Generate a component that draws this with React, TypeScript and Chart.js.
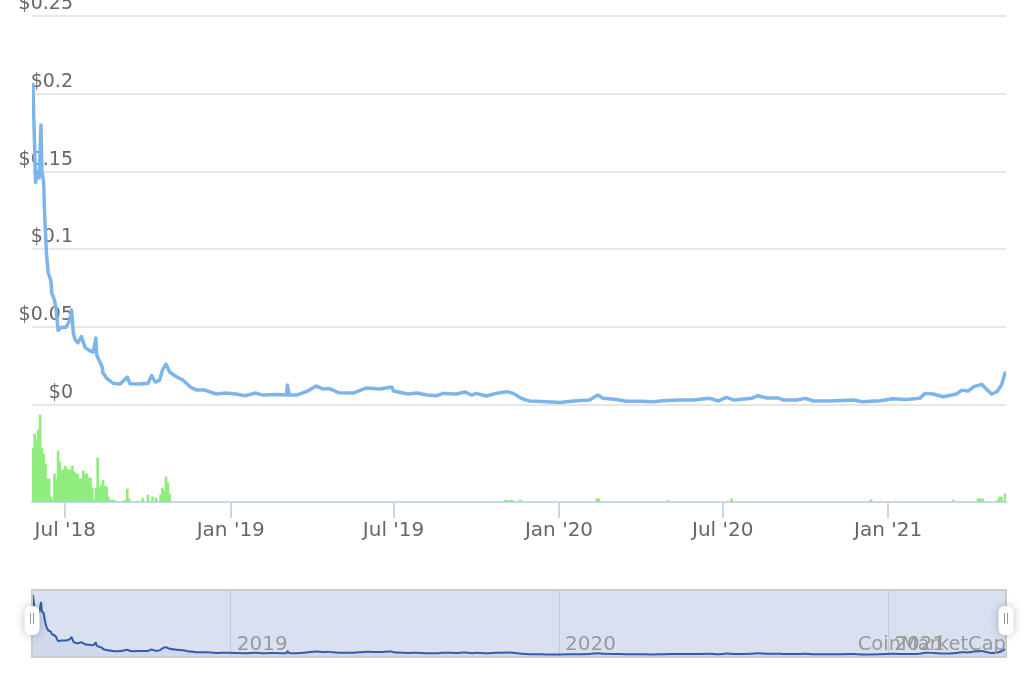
import React, { useEffect, useRef } from 'react';
import { Chart, registerables } from 'chart.js';

Chart.register(...registerables);

// ---------- data ----------
const priceDates = [
  '2018-05-26', '2018-05-29', '2018-05-31', '2018-06-02', '2018-06-04', '2018-06-05', '2018-06-07', '2018-06-08',
  '2018-06-10', '2018-06-12', '2018-06-15', '2018-06-16', '2018-06-19', '2018-06-21', '2018-06-23', '2018-06-27',
  '2018-07-02', '2018-07-06', '2018-07-08', '2018-07-10', '2018-07-12', '2018-07-15', '2018-07-19', '2018-07-23',
  '2018-07-28', '2018-08-01', '2018-08-04', '2018-08-05', '2018-08-09', '2018-08-11', '2018-08-12', '2018-08-16',
  '2018-08-23', '2018-08-31', '2018-09-08', '2018-09-11', '2018-09-22', '2018-10-01', '2018-10-05', '2018-10-09',
  '2018-10-14', '2018-10-17', '2018-10-21', '2018-10-25', '2018-11-02', '2018-11-09', '2018-11-17', '2018-11-24',
  '2018-12-03', '2018-12-16', '2018-12-27', '2019-01-07', '2019-01-17', '2019-01-28', '2019-02-06', '2019-02-21',
  '2019-03-04', '2019-03-05', '2019-03-07', '2019-03-15', '2019-03-26', '2019-04-06', '2019-04-14', '2019-04-20',
  '2019-05-01', '2019-05-17', '2019-06-01', '2019-06-16', '2019-06-29', '2019-07-01', '2019-07-17', '2019-07-27',
  '2019-08-07', '2019-08-18', '2019-08-25', '2019-09-09', '2019-09-18', '2019-09-26', '2019-10-01', '2019-10-12',
  '2019-10-23', '2019-11-04', '2019-11-11', '2019-11-20', '2019-11-29', '2019-12-18', '2020-01-02', '2020-01-17',
  '2020-02-04', '2020-02-13', '2020-02-19', '2020-03-05', '2020-03-16', '2020-03-31', '2020-04-15', '2020-04-26',
  '2020-05-14', '2020-05-29', '2020-06-17', '2020-06-26', '2020-07-05', '2020-07-14', '2020-08-02', '2020-08-09',
  '2020-08-19', '2020-09-01', '2020-09-07', '2020-09-21', '2020-10-01', '2020-10-10', '2020-10-28', '2020-11-23',
  '2020-12-03', '2020-12-23', '2021-01-06', '2021-01-21', '2021-02-05', '2021-02-11', '2021-02-20', '2021-03-03',
  '2021-03-18', '2021-03-24', '2021-03-31', '2021-04-06', '2021-04-15', '2021-04-19', '2021-04-26', '2021-05-02',
  '2021-05-07', '2021-05-11',
];
const priceValues = [
  0.206, 0.143, 0.150, 0.146, 0.180, 0.150, 0.143, 0.123,
  0.098, 0.085, 0.080, 0.072, 0.0675, 0.061, 0.048, 0.050,
  0.050, 0.0546, 0.061, 0.046, 0.042, 0.040, 0.044, 0.037,
  0.035, 0.034, 0.043, 0.032, 0.027, 0.0245, 0.0206, 0.0173,
  0.014, 0.0135, 0.018, 0.0137, 0.0135, 0.014, 0.019, 0.0148,
  0.016, 0.0225, 0.0263, 0.0212, 0.018, 0.016, 0.0116, 0.0096,
  0.0096, 0.0071, 0.0077, 0.0071, 0.006, 0.0077, 0.0064, 0.0067,
  0.0064, 0.0129, 0.0064, 0.0064, 0.0086, 0.0122, 0.0103, 0.0107,
  0.0079, 0.0077, 0.011, 0.0103, 0.0116, 0.009, 0.0071, 0.0077,
  0.0064, 0.006, 0.0075, 0.0071, 0.0084, 0.0064, 0.0075, 0.0058,
  0.0075, 0.0086, 0.0075, 0.0043, 0.0026, 0.0021, 0.0017, 0.0026,
  0.0032, 0.0064, 0.0043, 0.0036, 0.0024, 0.0024, 0.0021, 0.0028,
  0.0032, 0.0032, 0.0043, 0.0026, 0.0049, 0.0032, 0.0043, 0.006,
  0.0045, 0.0045, 0.0032, 0.0032, 0.0043, 0.0026, 0.0026, 0.0032,
  0.0021, 0.0028, 0.004, 0.0036, 0.0043, 0.0075, 0.0071, 0.0053,
  0.0071, 0.0096, 0.009, 0.0118, 0.0133, 0.011, 0.0071, 0.0086,
  0.0129, 0.0206,
];

const volumeDates = [
  '2018-05-26', '2018-05-28', '2018-05-30', '2018-06-01', '2018-06-03', '2018-06-05', '2018-06-07', '2018-06-09',
  '2018-06-11', '2018-06-13', '2018-06-15', '2018-06-17', '2018-06-19', '2018-06-21', '2018-06-23', '2018-06-25',
  '2018-06-27', '2018-06-29', '2018-07-01', '2018-07-03', '2018-07-05', '2018-07-07', '2018-07-09', '2018-07-11',
  '2018-07-13', '2018-07-15', '2018-07-17', '2018-07-19', '2018-07-21', '2018-07-23', '2018-07-25', '2018-07-27',
  '2018-07-29', '2018-07-31', '2018-08-02', '2018-08-04', '2018-08-06', '2018-08-08', '2018-08-10', '2018-08-12',
  '2018-08-14', '2018-08-16', '2018-08-18', '2018-08-20', '2018-08-22', '2018-08-24', '2018-08-26', '2018-09-04',
  '2018-09-06', '2018-09-08', '2018-09-10', '2018-09-20', '2018-09-25', '2018-10-01', '2018-10-06', '2018-10-10',
  '2018-10-15', '2018-10-17', '2018-10-19', '2018-10-21', '2018-10-23', '2018-10-25', '2019-11-02', '2019-11-04',
  '2019-11-08', '2019-11-10', '2019-11-19', '2020-02-12', '2020-02-14', '2020-05-01', '2020-07-11', '2020-12-13',
  '2021-03-14', '2021-04-11', '2021-04-13', '2021-04-16', '2021-05-03', '2021-05-05', '2021-05-07', '2021-05-11',
];
const volumeValues = [
  54, 68, 62, 72, 87, 54, 48, 38,
  23, 23, 5, 2, 28, 23, 51, 40,
  32, 32, 36, 33, 32, 32, 36, 30,
  28, 28, 23, 23, 31, 28, 28, 24,
  24, 14, 2, 14, 44, 14, 17, 22,
  16, 15, 5, 1, 2, 2, 1, 1,
  2, 13, 3, 1, 4, 7, 5, 4,
  7, 14, 11, 25, 19, 8, 1.7, 1.7,
  1.7, 1.7, 2, 3, 3.3, 1.5, 3.3, 2.3,
  2, 3.3, 3.3, 3, 2, 5, 5, 8.3,
];

const mainTickDates = ['2018-07-01', '2019-01-01', '2019-07-01', '2020-01-01', '2020-07-01', '2021-01-01'];
const navTickDates = ['2019-01-01', '2020-01-01', '2021-01-01'];
const priceTicks = [0, 0.05, 0.1, 0.15, 0.2, 0.25];
const rangeStart = '2018-05-25';
const rangeEnd = '2021-05-12';
const monthNames = ['Jan', 'Feb', 'Mar', 'Apr', 'May', 'Jun', 'Jul', 'Aug', 'Sep', 'Oct', 'Nov', 'Dec'];
const creditText = 'CoinMarketCap';

const FONT = '"DejaVu Sans", "Open Sans", sans-serif';
const ts = (d: string) => Date.parse(d + 'T00:00:00Z');

const fmtMonth = (v: number) => {
  const d = new Date(v);
  return `${monthNames[d.getUTCMonth()]} '${String(d.getUTCFullYear()).slice(2)}`;
};

const navPlugin = {
  id: 'navFrame',
  beforeDraw(chart: any) {
    const { ctx, chartArea: a } = chart;
    ctx.save();
    ctx.fillStyle = '#d9e0ef';
    ctx.fillRect(a.left, a.top, a.right - a.left, a.bottom - a.top);
    ctx.restore();
  },
  afterDraw(chart: any) {
    const { ctx, chartArea: a } = chart;
    ctx.save();
    ctx.strokeStyle = '#cccccc';
    ctx.lineWidth = 2;
    ctx.strokeRect(a.left, a.top, a.right - a.left, a.bottom - a.top);
    const cy = a.top + 30;
    for (const hx of [a.left, a.right]) {
      ctx.save();
      ctx.shadowColor = 'rgba(0,0,0,0.25)';
      ctx.shadowBlur = 10;
      ctx.fillStyle = '#ffffff';
      ctx.beginPath();
      ctx.roundRect(hx - 7.5, cy - 14, 15, 29, 6);
      ctx.fill();
      ctx.restore();
      ctx.strokeStyle = '#999999';
      ctx.lineWidth = 1;
      ctx.beginPath();
      ctx.moveTo(hx - 1.5, cy - 7);
      ctx.lineTo(hx - 1.5, cy + 4);
      ctx.moveTo(hx + 1.5, cy - 7);
      ctx.lineTo(hx + 1.5, cy + 4);
      ctx.stroke();
    }
    ctx.restore();
  },
};

export default function App() {
  const mainRef = useRef<HTMLCanvasElement>(null);
  const navRef = useRef<HTMLCanvasElement>(null);

  useEffect(() => {
    const pricePoints = priceDates.map((d, i) => ({ x: ts(d), y: priceValues[i] }));
    const volumePoints = volumeDates.map((d, i) => ({ x: ts(d), y: volumeValues[i] }));

    const main = new Chart(mainRef.current as HTMLCanvasElement, {
      type: 'line',
      data: {
        datasets: [
          {
            type: 'line',
            label: 'Price',
            data: pricePoints,
            borderColor: '#7cb5ec',
            borderWidth: 3.5,
            pointRadius: 0,
            tension: 0,
            borderJoinStyle: 'round',
            borderCapStyle: 'round',
            yAxisID: 'y',
            order: 1,
          } as any,
          {
            type: 'bar',
            label: 'Volume',
            data: volumePoints,
            backgroundColor: '#90ed7d',
            barThickness: 2,
            yAxisID: 'yVol',
            order: 2,
          } as any,
        ],
      },
      options: {
        animation: false,
        responsive: false,
        maintainAspectRatio: false,
        layout: { padding: { left: 32, right: 18, top: 16, bottom: 0 } },
        plugins: { legend: { display: false }, tooltip: { enabled: false } },
        scales: {
          x: {
            type: 'linear',
            min: ts(rangeStart),
            max: ts(rangeEnd),
            offset: false,
            afterBuildTicks: (s: any) => {
              s.ticks = mainTickDates.map((d) => ({ value: ts(d) }));
            },
            afterFit: (s: any) => {
              s.height = 58;
            },
            grid: { offset: false, drawOnChartArea: false, drawTicks: true, tickLength: 16, color: '#ccd6eb', lineWidth: 2 },
            border: { display: true, color: '#ccd6eb', width: 2 },
            ticks: {
              color: '#666666',
              font: { family: FONT, size: 20 },
              padding: 1,
              maxRotation: 0,
              autoSkip: false,
              callback: (v: any) => fmtMonth(Number(v)),
            },
          },
          y: {
            type: 'linear',
            position: 'left',
            min: -0.0623,
            max: 0.25,
            afterBuildTicks: (s: any) => {
              s.ticks = priceTicks.map((v) => ({ value: v }));
            },
            afterFit: (s: any) => {
              s.width = 0;
            },
            grid: { color: '#e6e6e6', lineWidth: 2, drawTicks: false },
            border: { display: false },
            ticks: {
              color: '#666666',
              font: { family: FONT, size: 19 },
              mirror: true,
              crossAlign: 'far',
              padding: -13.4,
              labelOffset: -12,
              callback: (v: any) => '$' + v,
            },
          },
          yVol: {
            type: 'linear',
            position: 'left',
            display: false,
            min: 0,
            max: 486,
          },
        },
      } as any,
    });

    const nav = new Chart(navRef.current as HTMLCanvasElement, {
      type: 'line',
      data: {
        datasets: [
          {
            label: 'Navigator',
            data: pricePoints,
            borderColor: '#335cad',
            borderWidth: 2,
            pointRadius: 0,
            tension: 0.3,
            fill: 'start',
            backgroundColor: 'rgba(51,92,173,0.05)',
          } as any,
        ],
      },
      options: {
        animation: false,
        responsive: false,
        maintainAspectRatio: false,
        layout: { padding: { left: 32, right: 18, top: 30, bottom: 26 } },
        plugins: { legend: { display: false }, tooltip: { enabled: false } },
        scales: {
          x: {
            type: 'linear',
            min: ts(rangeStart),
            max: ts(rangeEnd),
            afterBuildTicks: (s: any) => {
              s.ticks = navTickDates.map((d) => ({ value: ts(d) }));
            },
            afterFit: (s: any) => {
              s.height = 0;
            },
            grid: { color: 'rgba(110,110,130,0.2)', lineWidth: 1, drawTicks: false },
            border: { display: false },
            ticks: {
              mirror: true,
              align: 'start',
              padding: 0,
              labelOffset: 6,
              color: '#999999',
              font: { family: FONT, size: 20 },
              maxRotation: 0,
              autoSkip: false,
              callback: (v: any) => String(new Date(Number(v)).getUTCFullYear()),
            },
          },
          y: { display: false, min: -0.0069, max: 0.2232 },
        },
      } as any,
      plugins: [navPlugin],
    });

    return () => {
      main.destroy();
      nav.destroy();
    };
  }, []);

  return (
    <div style={{ position: 'fixed', left: 0, top: 0, width: 1024, height: 683, background: '#ffffff', overflow: 'hidden' }}>
      <canvas ref={mainRef} width={1024} height={560} style={{ position: 'absolute', left: 0, top: 0 }} />
      <canvas ref={navRef} width={1024} height={123} style={{ position: 'absolute', left: 0, top: 560 }} />
      <span
        style={{
          position: 'absolute',
          right: 18,
          top: 632,
          fontFamily: FONT,
          fontSize: 19.5,
          lineHeight: '24px',
          color: '#999999',
          whiteSpace: 'nowrap',
        }}
      >
        {creditText}
      </span>
    </div>
  );
}
